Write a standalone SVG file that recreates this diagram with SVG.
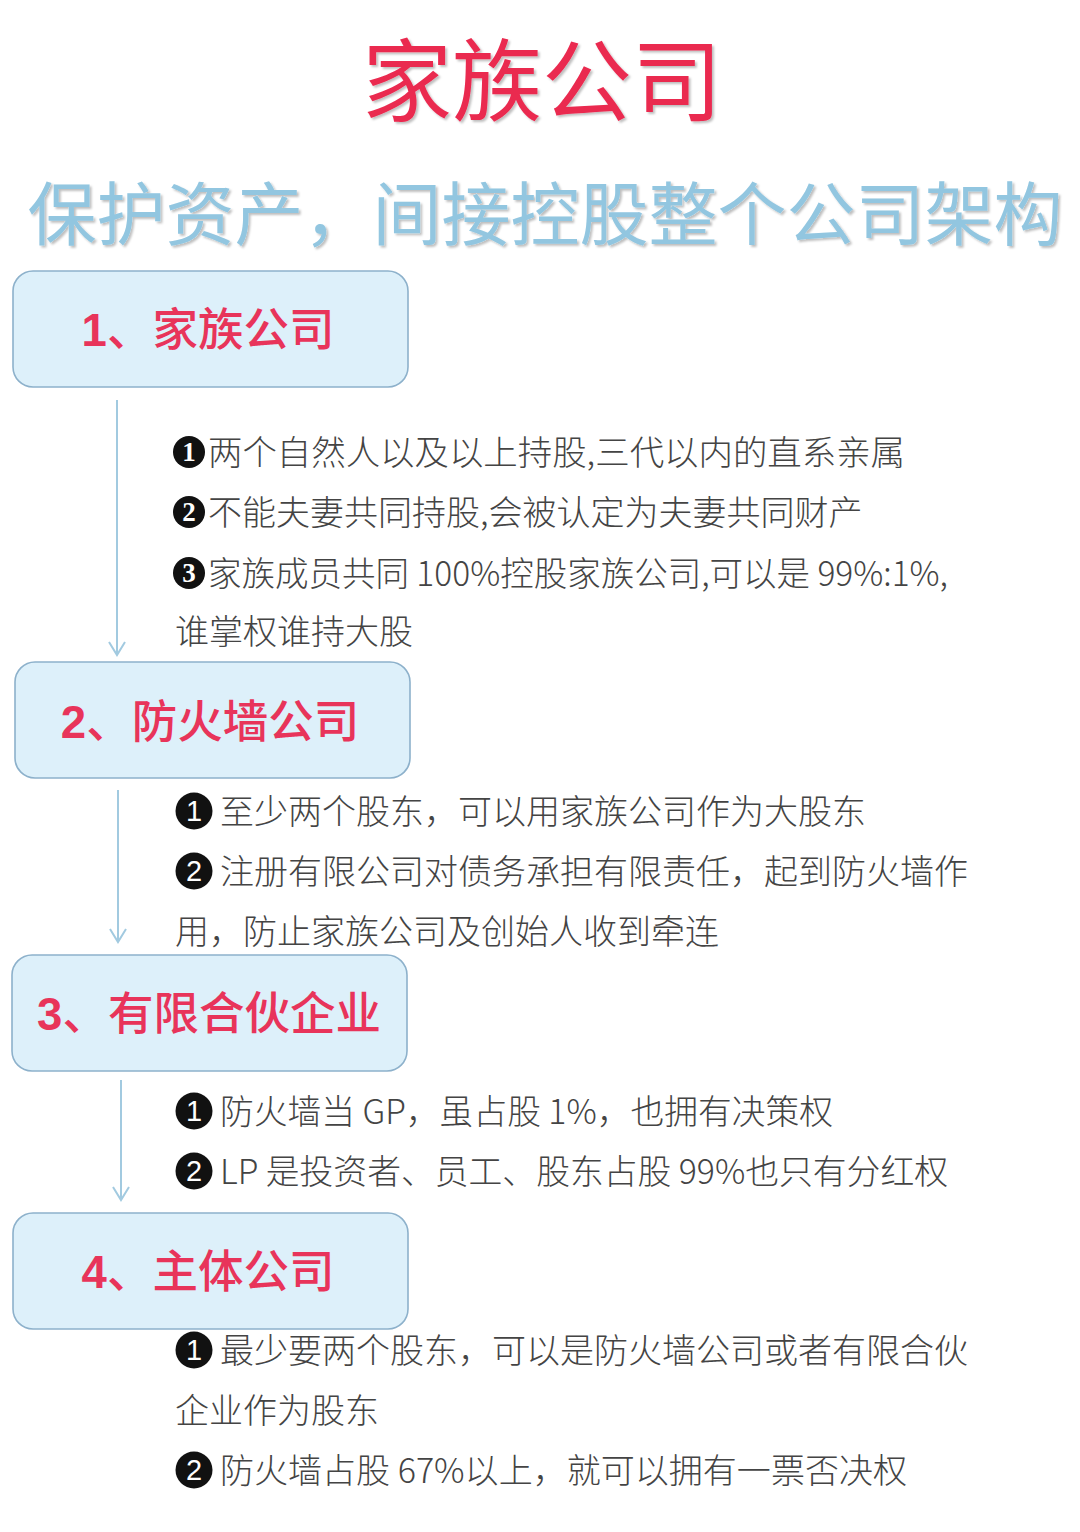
<svg xmlns="http://www.w3.org/2000/svg" width="1080" height="1532" viewBox="0 0 1080 1532">
<defs>
<style>
.title{font-family:"Noto Sans CJK SC","Liberation Sans",sans-serif;font-size:90px;fill:#ea2a50;text-anchor:middle}
.sub{font-family:"Noto Sans CJK SC","Liberation Sans",sans-serif;font-size:69px;fill:#92c6e0;text-anchor:middle}
.box{fill:#ddf0fa;stroke:#8db1cb;stroke-width:1.6}
.lbl{font-family:"Noto Sans CJK SC","Liberation Sans",sans-serif;font-size:45.5px;font-weight:500;fill:#e8345a;text-anchor:middle}
.num{font-family:"Liberation Sans","Noto Sans CJK SC",sans-serif;font-weight:bold}
.body{font-family:"Noto Sans CJK SC","Liberation Sans",sans-serif;font-size:34px;font-weight:300;fill:#444444}
.dot{fill:#111}
.d1{font-family:"Liberation Serif",serif;font-weight:bold;font-size:27px;fill:#fff;text-anchor:middle}
.d2{font-family:"Liberation Sans",sans-serif;font-size:29px;fill:#fff;text-anchor:middle}
.conn{stroke:#a2cae0;stroke-width:2;fill:none}
</style>
<marker id="ah" markerUnits="userSpaceOnUse" markerWidth="16" markerHeight="20" viewBox="-15 -10 16 20" refX="0" refY="0" orient="auto" overflow="visible">
<path d="M-13,-8 L0,0 L-13,8" fill="none" stroke="#a2cae0" stroke-width="2"/>
</marker>
<filter id="sh" x="-5%" y="-10%" width="110%" height="130%">
<feDropShadow dx="2" dy="2" stdDeviation="1.2" flood-color="#000" flood-opacity="0.25"/>
</filter>
</defs>
<rect width="1080" height="1532" fill="#ffffff"/>

<g id="title">
<text class="title" x="542" y="114" filter="url(#sh)">家族公司</text>
</g>
<g id="subtitle">
<text class="sub" x="545" y="240" filter="url(#sh)">保护资产，间接控股整个公司架构</text>
</g>

<g id="connectors">
<line class="conn" x1="117" y1="400" x2="117" y2="655" marker-end="url(#ah)"/>
<line class="conn" x1="118" y1="790" x2="118" y2="942" marker-end="url(#ah)"/>
<line class="conn" x1="121" y1="1080" x2="121" y2="1200" marker-end="url(#ah)"/>
</g>

<g id="node1">
<rect class="box" x="13" y="271" width="395" height="116" rx="20"/>
<text class="lbl" x="208" y="346"><tspan class="num">1</tspan>、家族公司</text>
</g>
<g id="node1-text">
<circle class="dot" cx="189" cy="452" r="16"/><text class="d1" x="189" y="461">1</text>
<text class="body" x="208" y="465" textLength="697" lengthAdjust="spacingAndGlyphs">两个自然人以及以上持股,三代以内的直系亲属</text>
<circle class="dot" cx="189" cy="512" r="16"/><text class="d1" x="189" y="521">2</text>
<text class="body" x="208" y="525">不能夫妻共同持股,会被认定为夫妻共同财产</text>
<circle class="dot" cx="189" cy="573" r="16"/><text class="d1" x="189" y="582">3</text>
<text class="body" x="208" y="586" textLength="740" lengthAdjust="spacingAndGlyphs">家族成员共同 100%控股家族公司,可以是 99%:1%,</text>
<text class="body" x="175" y="644">谁掌权谁持大股</text>
</g>

<g id="node2">
<rect class="box" x="15" y="662" width="395" height="116" rx="20"/>
<text class="lbl" x="210" y="738"><tspan class="num">2</tspan>、防火墙公司</text>
</g>
<g id="node2-text">
<circle class="dot" cx="194" cy="811" r="18.5"/><text class="d2" x="194" y="821">1</text>
<text class="body" x="220" y="824">至少两个股东，可以用家族公司作为大股东</text>
<circle class="dot" cx="194" cy="871" r="18.5"/><text class="d2" x="194" y="881">2</text>
<text class="body" x="220" y="884">注册有限公司对债务承担有限责任，起到防火墙作</text>
<text class="body" x="175" y="944">用，防止家族公司及创始人收到牵连</text>
</g>

<g id="node3">
<rect class="box" x="12" y="955" width="395" height="116" rx="20"/>
<text class="lbl" x="209" y="1030"><tspan class="num">3</tspan>、有限合伙企业</text>
</g>
<g id="node3-text">
<circle class="dot" cx="194" cy="1111" r="18.5"/><text class="d2" x="194" y="1121">1</text>
<text class="body" x="220" y="1124" textLength="613" lengthAdjust="spacingAndGlyphs">防火墙当 GP，虽占股 1%，也拥有决策权</text>
<circle class="dot" cx="194" cy="1171" r="18.5"/><text class="d2" x="194" y="1181">2</text>
<text class="body" x="220" y="1184" textLength="728" lengthAdjust="spacingAndGlyphs">LP 是投资者、员工、股东占股 99%也只有分红权</text>
</g>

<g id="node4">
<rect class="box" x="13" y="1213" width="395" height="116" rx="20"/>
<text class="lbl" x="208" y="1288"><tspan class="num">4</tspan>、主体公司</text>
</g>
<g id="node4-text">
<circle class="dot" cx="194" cy="1350" r="18.5"/><text class="d2" x="194" y="1360">1</text>
<text class="body" x="220" y="1363">最少要两个股东，可以是防火墙公司或者有限合伙</text>
<text class="body" x="175" y="1423">企业作为股东</text>
<circle class="dot" cx="194" cy="1470" r="18.5"/><text class="d2" x="194" y="1480">2</text>
<text class="body" x="220" y="1483" textLength="687" lengthAdjust="spacingAndGlyphs">防火墙占股 67%以上，就可以拥有一票否决权</text>
</g>
</svg>
